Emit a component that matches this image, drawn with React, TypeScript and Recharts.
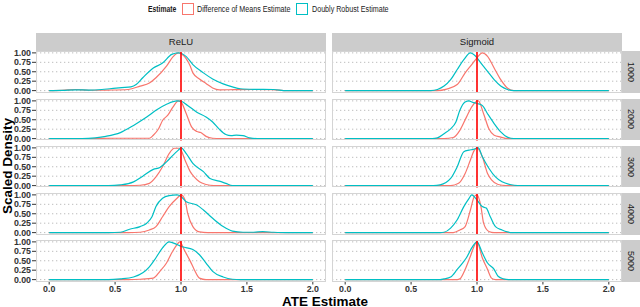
import React from 'react';
import { LineChart, Line, XAxis, YAxis, ReferenceLine } from 'recharts';

type Pt = [number, number];

const ACTIVATIONS = ['ReLU', 'Sigmoid'];
const SAMPLE_SIZES = ['1000', '2000', '3000', '4000', '5000'];
const X_TICKS = [0, 0.5, 1, 1.5, 2];
const Y_TICKS = [0, 0.25, 0.5, 0.75, 1];
const TRUE_ATE = 1;
const SERIES_NAMES = ['Difference of Means Estimate', 'Doubly Robust Estimate'];

// ReLU — Difference of Means (DM) and Doubly Robust (DR)
const RELU_1000_DM: Pt[] = [[0,0],[0.1,0.005],[0.2,0.03],[0.3,0.01],[0.45,0.015],[0.6,0.03],[0.69,0.12],[0.76,0.2],[0.81,0.34],[0.89,0.65],[0.94,0.9],[0.98,1.0],[1.01,0.96],[1.07,0.65],[1.09,0.47],[1.14,0.31],[1.19,0.19],[1.24,0.07],[1.29,0.02],[1.4,0.025],[1.55,0.03],[1.7,0.025],[1.78,0],[2,0]];
const RELU_1000_DR: Pt[] = [[0,0],[0.1,0.005],[0.2,0.02],[0.3,0.015],[0.4,0.03],[0.46,0.05],[0.55,0.08],[0.62,0.1],[0.66,0.16],[0.71,0.34],[0.79,0.6],[0.86,0.73],[0.93,0.96],[0.98,1.0],[1.0,0.99],[1.04,0.9],[1.09,0.69],[1.17,0.47],[1.24,0.31],[1.32,0.18],[1.39,0.1],[1.45,0.05],[1.55,0.035],[1.7,0.03],[1.8,0],[2,0]];
const RELU_2000_DM: Pt[] = [[0,0],[0.3,0],[0.5,0.01],[0.76,0.01],[0.79,0.09],[0.83,0.26],[0.86,0.48],[0.9,0.62],[0.94,0.84],[0.98,1.0],[1.0,0.97],[1.04,0.66],[1.08,0.31],[1.12,0.19],[1.15,0.16],[1.19,0.06],[1.24,0.01],[1.3,0],[2,0]];
const RELU_2000_DR: Pt[] = [[0,0],[0.25,0],[0.35,0.02],[0.43,0.06],[0.54,0.16],[0.64,0.35],[0.74,0.57],[0.81,0.75],[0.89,0.91],[0.97,1.0],[1.0,0.99],[1.05,0.88],[1.12,0.7],[1.19,0.57],[1.24,0.44],[1.29,0.25],[1.34,0.11],[1.38,0.08],[1.42,0.09],[1.47,0.08],[1.52,0.02],[1.6,0],[2,0]];
const RELU_3000_DM: Pt[] = [[0,0],[0.6,0],[0.69,0.01],[0.76,0.06],[0.81,0.23],[0.86,0.5],[0.91,0.85],[0.95,0.99],[0.99,0.99],[1.03,0.68],[1.07,0.37],[1.1,0.23],[1.14,0.1],[1.19,0.03],[1.25,0],[2,0]];
const RELU_3000_DR: Pt[] = [[0,0],[0.45,0],[0.54,0.02],[0.64,0.1],[0.71,0.25],[0.79,0.43],[0.84,0.48],[0.89,0.63],[0.94,0.81],[0.98,0.94],[1.0,1.0],[1.04,0.85],[1.09,0.59],[1.17,0.37],[1.22,0.19],[1.29,0.12],[1.34,0.06],[1.39,0],[2,0]];
const RELU_4000_DM: Pt[] = [[0,0],[0.6,0],[0.69,0.01],[0.76,0.07],[0.81,0.16],[0.86,0.42],[0.91,0.69],[0.97,0.91],[1.0,1.0],[1.03,0.87],[1.05,0.52],[1.09,0.16],[1.14,0.02],[1.2,0],[2,0]];
const RELU_4000_DR: Pt[] = [[0,0],[0.45,0],[0.54,0.01],[0.61,0.09],[0.69,0.16],[0.74,0.25],[0.78,0.42],[0.81,0.69],[0.86,0.91],[0.91,0.98],[0.97,1.0],[1.0,0.96],[1.04,0.82],[1.12,0.73],[1.17,0.6],[1.24,0.38],[1.32,0.16],[1.39,0.04],[1.47,0.01],[1.55,0.01],[1.62,0.025],[1.7,0.01],[1.8,0],[2,0]];
const RELU_5000_DM: Pt[] = [[0,0],[0.6,0],[0.69,0.01],[0.79,0.04],[0.84,0.22],[0.89,0.44],[0.93,0.71],[0.97,0.93],[0.99,1.0],[1.03,0.75],[1.07,0.49],[1.1,0.27],[1.14,0.04],[1.19,0],[2,0]];
const RELU_5000_DR: Pt[] = [[0,0],[0.45,0],[0.54,0.02],[0.64,0.07],[0.71,0.18],[0.76,0.34],[0.81,0.58],[0.86,0.84],[0.91,1.0],[0.97,0.93],[1.01,0.87],[1.09,0.8],[1.14,0.66],[1.19,0.44],[1.24,0.22],[1.32,0.07],[1.39,0.01],[1.45,0],[2,0]];

// Sigmoid
const SIG_1000_DM: Pt[] = [[0,0],[0.7,0],[0.77,0.04],[0.85,0.16],[0.91,0.47],[0.96,0.69],[1.0,0.87],[1.04,1.0],[1.08,0.91],[1.13,0.6],[1.18,0.29],[1.23,0.07],[1.28,0],[2,0]];
const SIG_1000_DR: Pt[] = [[0,0],[0.65,0],[0.7,0.03],[0.75,0.12],[0.8,0.29],[0.85,0.56],[0.9,0.82],[0.95,1.0],[0.99,0.91],[1.03,0.73],[1.08,0.51],[1.13,0.29],[1.18,0.12],[1.23,0.03],[1.28,0],[2,0]];
const SIG_2000_DM: Pt[] = [[0,0],[0.75,0],[0.82,0.03],[0.87,0.22],[0.92,0.57],[0.96,0.84],[0.99,0.97],[1.01,1.0],[1.05,0.66],[1.09,0.26],[1.13,0.09],[1.18,0.04],[1.23,0],[2,0]];
const SIG_2000_DR: Pt[] = [[0,0],[0.66,0],[0.7,0.02],[0.75,0.13],[0.8,0.26],[0.84,0.44],[0.87,0.75],[0.91,0.97],[0.94,1.0],[0.96,0.97],[1.0,0.93],[1.04,0.88],[1.08,0.66],[1.13,0.4],[1.18,0.18],[1.23,0.04],[1.28,0],[2,0]];
const SIG_3000_DM: Pt[] = [[0,0],[0.8,0],[0.86,0.06],[0.91,0.32],[0.95,0.68],[0.98,0.94],[1.0,1.0],[1.04,0.77],[1.08,0.32],[1.11,0.15],[1.16,0.03],[1.22,0],[2,0]];
const SIG_3000_DR: Pt[] = [[0,0],[0.67,0],[0.72,0.02],[0.8,0.19],[0.85,0.5],[0.9,0.9],[0.94,0.94],[0.97,0.96],[1.01,1.0],[1.04,0.77],[1.09,0.46],[1.14,0.23],[1.19,0.1],[1.25,0.03],[1.31,0],[2,0]];
const SIG_4000_DM: Pt[] = [[0,0],[0.82,0],[0.87,0.07],[0.91,0.16],[0.95,0.6],[0.98,0.96],[1.0,1.0],[1.03,0.69],[1.05,0.25],[1.09,0.03],[1.13,0],[2,0]];
const SIG_4000_DR: Pt[] = [[0,0],[0.72,0],[0.75,0.01],[0.8,0.12],[0.85,0.34],[0.9,0.69],[0.94,0.91],[0.96,1.0],[0.99,0.91],[1.04,0.69],[1.07,0.65],[1.1,0.43],[1.14,0.16],[1.19,0.07],[1.23,0.02],[1.27,0],[2,0]];
const SIG_5000_DM: Pt[] = [[0,0],[0.85,0],[0.87,0.02],[0.91,0.27],[0.95,0.62],[0.99,0.97],[1.0,1.0],[1.04,0.58],[1.08,0.27],[1.11,0.04],[1.14,0],[2,0]];
const SIG_5000_DR: Pt[] = [[0,0],[0.72,0],[0.75,0.02],[0.8,0.07],[0.85,0.27],[0.89,0.44],[0.92,0.58],[0.96,0.84],[1.0,1.0],[1.04,0.71],[1.08,0.44],[1.13,0.27],[1.16,0.09],[1.2,0.02],[1.24,0],[2,0]];

const PANELS: { dm: Pt[]; dr: Pt[] }[][] = [
  [
    { dm: RELU_1000_DM, dr: RELU_1000_DR },
    { dm: RELU_2000_DM, dr: RELU_2000_DR },
    { dm: RELU_3000_DM, dr: RELU_3000_DR },
    { dm: RELU_4000_DM, dr: RELU_4000_DR },
    { dm: RELU_5000_DM, dr: RELU_5000_DR },
  ],
  [
    { dm: SIG_1000_DM, dr: SIG_1000_DR },
    { dm: SIG_2000_DM, dr: SIG_2000_DR },
    { dm: SIG_3000_DM, dr: SIG_3000_DR },
    { dm: SIG_4000_DM, dr: SIG_4000_DR },
    { dm: SIG_5000_DM, dr: SIG_5000_DR },
  ],
];

const RED = '#F8766D';
const TEAL = '#00BFC4';
const FONT = '"Liberation Sans", Arial, Helvetica, sans-serif';

const PANEL_W = 290;
const PANEL_H = 41.5;
const ROW_STEP = 47.25;
const TOP0 = 51.4;
const COL_LEFT = [36, 332];
const YAXIS_W = 36;
const XAXIS_H = 16;
const PAD = 6;
const STRIP_BG = '#cccccc';

const toObj = (pts: Pt[]) => pts.map(([x, y]) => ({ x, y }));

function Panel({ col, row }: { col: number; row: number }) {
  const { dm, dr } = PANELS[col][row];
  const isLeft = col === 0;
  const isBottom = row === SAMPLE_SIZES.length - 1;
  const width = PANEL_W + (isLeft ? YAXIS_W : 0);
  const height = PANEL_H + 2 * PAD + (isBottom ? XAXIS_H : 0);
  const left = COL_LEFT[col] - (isLeft ? YAXIS_W : 0);
  const top = TOP0 + row * ROW_STEP - PAD;
  const tickStyle = { fontSize: 8.8, fontWeight: 'bold' as const, fill: '#333333', fontFamily: FONT };
  return (
    <div style={{ position: 'absolute', left, top, width, height }}>
      <LineChart width={width} height={height} margin={{ top: PAD, right: 0, bottom: PAD, left: 0 }}>
        <XAxis
          type="number"
          dataKey="x"
          domain={[-0.1, 2.1]}
          ticks={X_TICKS}
          interval={0}
          allowDataOverflow
          hide={!isBottom}
          height={XAXIS_H}
          axisLine={false}
          tickSize={3}
          tickMargin={1}
          tickLine={{ stroke: '#333333' }}
          tick={tickStyle}
          tickFormatter={(v: number) => v.toFixed(1)}
        />
        <YAxis
          type="number"
          domain={[-0.05, 1.05]}
          ticks={Y_TICKS}
          interval={0}
          allowDataOverflow
          hide={!isLeft}
          width={YAXIS_W}
          axisLine={false}
          tickSize={4}
          tickMargin={1}
          tickLine={{ stroke: '#333333' }}
          tick={tickStyle}
          tickFormatter={(v: number) => v.toFixed(2)}
        />
        {Y_TICKS.map((v) => (
          <ReferenceLine key={'g' + v} y={v} stroke="#bdbdbd" strokeWidth={1} strokeDasharray="1.3 2.7" />
        ))}
        <Line data={toObj(dm)} dataKey="y" type="monotone" stroke={RED} strokeWidth={1.2} dot={false} isAnimationActive={false} name={SERIES_NAMES[0]} />
        <Line data={toObj(dr)} dataKey="y" type="monotone" stroke={TEAL} strokeWidth={1.2} dot={false} isAnimationActive={false} name={SERIES_NAMES[1]} />
        <ReferenceLine x={TRUE_ATE} stroke="#ff0000" strokeWidth={1.6} />
      </LineChart>
      <div
        style={{
          position: 'absolute',
          left: isLeft ? YAXIS_W : 0,
          top: PAD,
          width: PANEL_W,
          height: PANEL_H,
          border: '1px solid #d4d4d4',
          boxSizing: 'border-box',
          pointerEvents: 'none',
        }}
      />
    </div>
  );
}

const legendText = (scale: number) => ({
  position: 'absolute' as const,
  top: 3,
  height: 13,
  lineHeight: '13px',
  fontSize: 8.5,
  whiteSpace: 'nowrap' as const,
  transform: `scaleX(${scale})`,
  transformOrigin: 'left center',
});

export default function App() {
  return (
    <div
      style={{
        position: 'absolute',
        left: 0,
        top: 0,
        width: 640,
        height: 307,
        background: '#ffffff',
        overflow: 'hidden',
        fontFamily: FONT,
        color: '#1a1a1a',
      }}
    >
      {/* Legend */}
      <div style={{ ...legendText(0.8), left: 148, fontWeight: 'bold' }}>Estimate</div>
      <div style={{ position: 'absolute', left: 182, top: 3, width: 12, height: 12, border: `1px solid ${RED}`, boxSizing: 'border-box' }} />
      <div style={{ ...legendText(0.84), left: 197 }}>{SERIES_NAMES[0]}</div>
      <div style={{ position: 'absolute', left: 296, top: 3, width: 12, height: 12, border: `1px solid ${TEAL}`, boxSizing: 'border-box' }} />
      <div style={{ ...legendText(0.84), left: 312 }}>{SERIES_NAMES[1]}</div>

      {/* Column strips */}
      {ACTIVATIONS.map((a, i) => (
        <div
          key={a}
          style={{
            position: 'absolute',
            left: COL_LEFT[i],
            top: 33,
            width: PANEL_W,
            height: 18,
            background: STRIP_BG,
            fontSize: 9.5,
            lineHeight: '18px',
            textAlign: 'center',
          }}
        >
          {a}
        </div>
      ))}

      {/* Row strips */}
      {SAMPLE_SIZES.map((s, r) => (
        <div
          key={s}
          style={{
            position: 'absolute',
            left: COL_LEFT[1] + PANEL_W,
            top: TOP0 + r * ROW_STEP,
            width: 18,
            height: PANEL_H,
            background: STRIP_BG,
            display: 'flex',
            alignItems: 'center',
            justifyContent: 'center',
          }}
        >
          <span style={{ display: 'inline-block', transform: 'rotate(90deg)', fontSize: 9, lineHeight: '10px', whiteSpace: 'nowrap' }}>{s}</span>
        </div>
      ))}

      {/* Panels */}
      {ACTIVATIONS.map((_, c) => SAMPLE_SIZES.map((__, r) => <Panel key={c + '-' + r} col={c} row={r} />))}

      {/* Axis titles */}
      <div
        style={{
          position: 'absolute',
          left: 7,
          top: 166,
          transform: 'translate(-50%, -50%) rotate(-90deg)',
          fontSize: 13.5,
          lineHeight: '13px',
          fontWeight: 'bold',
          whiteSpace: 'nowrap',
          color: '#000',
        }}
      >
        Scaled Density
      </div>
      <div
        style={{
          position: 'absolute',
          left: 325,
          top: 301,
          transform: 'translate(-50%, -50%)',
          fontSize: 13.5,
          lineHeight: '13px',
          fontWeight: 'bold',
          whiteSpace: 'nowrap',
          color: '#000',
        }}
      >
        ATE Estimate
      </div>
    </div>
  );
}
